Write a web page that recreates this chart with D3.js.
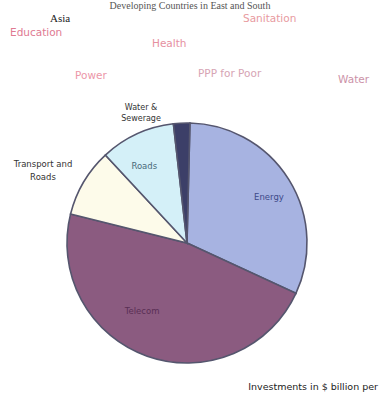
<!DOCTYPE html>
<html><head><meta charset="utf-8">
<script src="https://cdn.jsdelivr.net/npm/d3@7"></script>
<style>html,body{margin:0;padding:0;background:#fff;overflow:hidden}</style>
</head><body>
<svg id="c" width="379" height="393"></svg>
<script>
const categories = ["Energy", "Telecom", "Transport and Roads", "Roads", "Water & Sewerage"];
const values = [31.5, 47.0, 9.2, 10.1, 2.2];
const colors = ["#a7b3e1", "#8b5b80", "#fdfbea", "#d4f0f8", "#3c3f68"];
const sliceLabels = ["Energy", "Telecom", "", "Roads", ""];
const floatingWords = ["Asia", "Education", "Health", "Sanitation", "Power", "PPP for Poor", "Water"];
const titleText = "Developing Countries in East and South";
const noteText = "Investments in $ billion per";

const svg = d3.select("#c");
const cx = 187, cy = 243, R = 120;
const start = 1.4 * Math.PI / 180;

const pie = d3.pie().sort(null).value(d => d).startAngle(start).endAngle(start + 2 * Math.PI);
const arc = d3.arc().innerRadius(0).outerRadius(R);
const arcs = pie(values);

const g = svg.append("g").attr("transform", `translate(${cx},${cy})`);
g.selectAll("path").data(arcs).enter().append("path")
  .attr("d", arc).attr("fill", (d, i) => colors[i])
  .attr("stroke", "#55566e").attr("stroke-width", 1.6);

const inLabelColor = ["#3e4a8a", "#5a2f55", "#333", "#4a6a7a", "#333"];
const inAdj = [[3, 0.78], [14, 0.68], [0, 0], [-4.5, 0.73], [0, 0]];
g.selectAll("text.in").data(arcs).enter().append("text")
  .attr("class", "in")
  .attr("transform", (d, i) => {
    const a = (d.startAngle + d.endAngle) / 2 + inAdj[i][0] * Math.PI / 180;
    const r = R * inAdj[i][1];
    return `translate(${Math.sin(a) * r},${-Math.cos(a) * r})`;
  })
  .attr("text-anchor", "middle").attr("dominant-baseline", "middle")
  .attr("font-family", "DejaVu Sans, sans-serif").attr("font-size", 8.5)
  .attr("fill", (d, i) => inLabelColor[i])
  .text((d, i) => sliceLabels[i]);

const outFont = "DejaVu Sans, sans-serif";
svg.append("text").attr("x", 141).attr("y", 110).attr("text-anchor", "middle")
  .attr("font-family", outFont).attr("font-size", 8).attr("fill", "#333")
  .selectAll("tspan").data(["Water &", "Sewerage"]).enter().append("tspan")
  .attr("x", 141).attr("dy", (d, i) => i ? 11 : 0).text(d => d);
svg.append("text").attr("x", 43).attr("y", 167).attr("text-anchor", "middle")
  .attr("font-family", outFont).attr("font-size", 8.5).attr("fill", "#333")
  .selectAll("tspan").data(["Transport and", "Roads"]).enter().append("tspan")
  .attr("x", 43).attr("dy", (d, i) => i ? 13 : 0).text(d => d);

svg.append("text").attr("x", 190).attr("y", 9).attr("text-anchor", "middle")
  .attr("font-family", "Liberation Serif, serif").attr("font-size", 10).attr("fill", "#555")
  .text(titleText);

const wordPos = [[50, 22, "#222", 11, "Liberation Serif, serif"],
  [10, 36, "#e07a92", 10.5, outFont],
  [152, 47, "#e6909f", 10.5, outFont],
  [243, 22, "#e89aa0", 10.5, outFont],
  [75, 79, "#ec96a8", 10.5, outFont],
  [198, 77, "#d6a4b4", 10.5, outFont],
  [338, 83, "#cc92a8", 10.5, outFont]];
svg.selectAll("text.w").data(floatingWords).enter().append("text").attr("class", "w")
  .attr("x", (d, i) => wordPos[i][0]).attr("y", (d, i) => wordPos[i][1])
  .attr("fill", (d, i) => wordPos[i][2])
  .attr("font-size", (d, i) => wordPos[i][3]).attr("font-family", (d, i) => wordPos[i][4])
  .text(d => d);

svg.append("text").attr("x", 378).attr("y", 390).attr("text-anchor", "end")
  .attr("font-family", outFont).attr("font-size", 9.5).attr("fill", "#222")
  .text(noteText);
</script>
</body></html>
